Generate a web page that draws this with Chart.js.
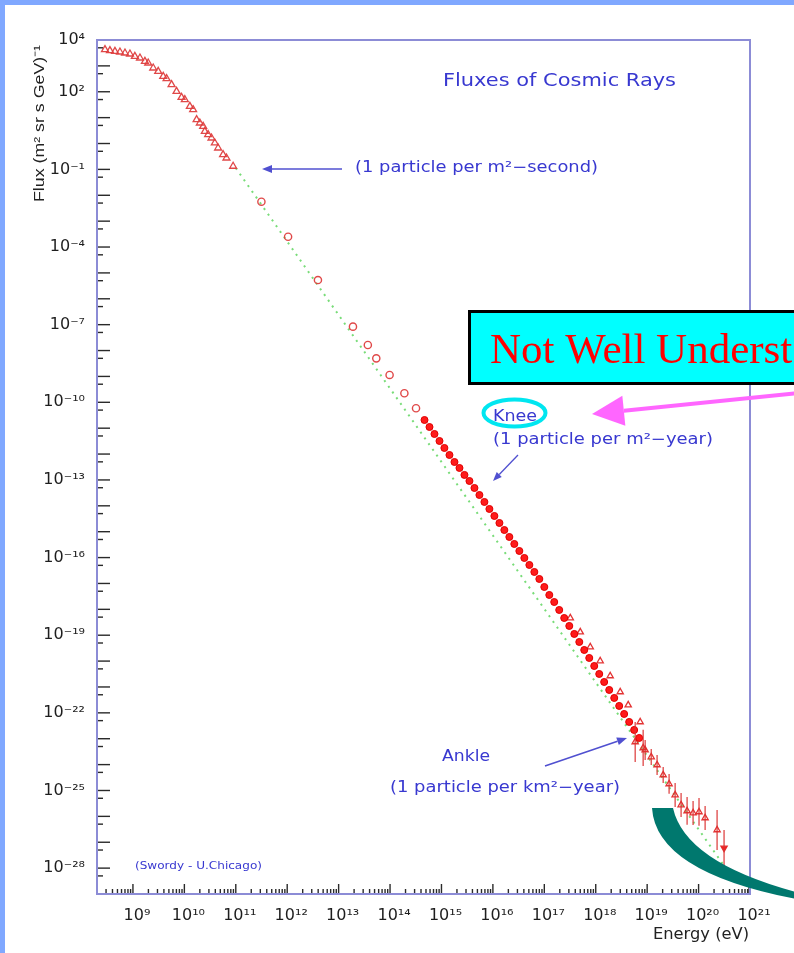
<!DOCTYPE html>
<html>
<head>
<meta charset="utf-8">
<style>
html,body{margin:0;padding:0;background:#ffffff;overflow:hidden}
#wrap{position:relative;width:794px;height:953px}
canvas{display:block}
</style>
<script src="https://cdn.jsdelivr.net/npm/chart.js@4.4.1/dist/chart.umd.min.js"></script>
</head>
<body>
<div id="wrap"><canvas id="c" width="794" height="953" style="width:794px;height:953px"></canvas></div>
<script>
// ---------------- DATA ----------------
// Energy in eV, flux in (m^2 sr s GeV)^-1
const lowEnergy = [2.86e8,3.57e8,4.47e8,5.59e8,7.0e8,8.75e8,1.09e9,1.37e9,1.71e9,1.98e9,2.48e9,3.10e9,3.88e9,4.51e9,5.64e9,7.05e9,8.81e9,1.02e10,1.28e10,1.48e10,1.73e10,2.0e10,2.32e10,2.50e10,2.90e10,3.37e10,3.91e10,4.53e10,5.66e10,6.59e10,8.87e10];
const lowFlux   = [4230,3870,3650,3440,3150,2880,2340,2020,1500,1290,828,615,394,321,188,104,61,49.5,27.3,20.3,8.35,6.21,4.62,2.96,2.20,1.63,1.05,0.671,0.371,0.276,0.132];

const midEnergy = [3.15e11,1.04e12,3.96e12,1.9e13,3.7e13,5.4e13,9.8e13,1.9e14,3.2e14];
const midFlux   = [5.65e-3,2.5e-4,5.3e-6,8.4e-8,1.64e-8,5.0e-9,1.14e-9,2.24e-10,5.9e-11];

const kneeEnergy = [4.68e14,5.85e14,7.31e14,9.15e14,1.14e15,1.43e15,1.79e15,2.24e15,2.80e15,3.50e15,4.38e15,5.47e15,6.84e15,8.55e15,1.07e16,1.34e16,1.67e16,2.09e16,2.61e16,3.27e16,4.09e16,5.12e16,6.40e16,8.0e16,1.0e17,1.25e17,1.56e17,1.95e17,2.44e17,3.06e17,3.83e17,4.79e17,5.98e17,7.48e17,9.35e17,1.17e18,1.46e18,1.83e18,2.29e18,2.86e18,3.57e18,4.47e18,5.59e18,7.0e18];
const kneeFlux   = [2.07e-11,1.11e-11,5.97e-12,3.20e-12,1.72e-12,9.2e-13,4.94e-13,2.90e-13,1.56e-13,9.1e-14,4.89e-14,2.62e-14,1.41e-14,7.55e-15,4.05e-15,2.17e-15,1.16e-15,6.25e-16,3.36e-16,1.80e-16,9.66e-17,5.18e-17,2.78e-17,1.49e-17,7.31e-18,3.59e-18,1.92e-18,9.44e-19,4.63e-19,2.28e-19,1.12e-19,5.48e-20,2.69e-20,1.32e-20,6.47e-21,3.18e-21,1.56e-21,7.66e-22,3.76e-22,1.85e-22,9.06e-23,4.45e-23,2.18e-23,1.07e-23];

const hiresEnergy = [3.20e17,5.0e17,7.82e17,1.22e18,1.91e18,2.99e18,4.28e18,7.31e18];
const hiresFlux   = [4.63e-19,1.33e-19,3.51e-20,1.01e-20,2.66e-21,6.41e-22,2.01e-22,4.45e-23];

const tailEnergy   = [5.85e18,8.36e18,9.14e18,1.20e19,1.56e19,2.05e19,2.67e19,3.50e19,4.57e19,5.98e19,7.82e19,1.02e20,1.34e20,2.29e20,3.13e20];
const tailFlux     = [7.5e-24,4.4e-24,3.68e-24,1.97e-24,9.7e-25,3.98e-25,1.79e-25,6.7e-26,2.75e-26,1.62e-26,1.35e-26,1.48e-26,8.7e-27,2.98e-27,6.0e-28];
const tailFluxHigh = [4.4e-23,2.2e-23,8.9e-24,4.0e-24,2.36e-24,8.1e-25,4.35e-25,1.95e-25,8.0e-26,5.6e-26,3.9e-26,5.1e-26,2.5e-26,1.77e-26,3.0e-27];
const tailFluxLow  = [1.26e-24,8.9e-25,1.5e-24,9.7e-25,4.0e-25,1.95e-25,7.4e-26,2.3e-26,9.5e-27,4.7e-27,4.6e-27,4.3e-27,3.0e-27,5.0e-28,8.5e-29];

const fitEnergy = [1e11, 3.6e20];
const fitFlux   = [0.113, 8.3e-29];

const xLabelPowers = [9,10,11,12,13,14,15,16,17,18,19,20,21];
const yLabelPowers = [4,2,-1,-4,-7,-10,-13,-16,-19,-22,-25,-28];

// ---------------- helpers ----------------
const SUP = {'0':'⁰','1':'¹','2':'²','3':'³','4':'⁴','5':'⁵','6':'⁶','7':'⁷','8':'⁸','9':'⁹','-':'⁻'};
function powLabel(v){
  const p = Math.round(Math.log10(v));
  return '10' + String(p).split('').map(c => SUP[c]).join('');
}
function pts(xs, ys){ return xs.map((x,i)=>({x:x, y:ys[i]})); }

function fitText(ctx, s, x0, x1, base, size, family, color, weight){
  ctx.save();
  ctx.font = (weight ? weight + ' ' : '') + size + 'px ' + family;
  ctx.fillStyle = color; ctx.textAlign = 'left'; ctx.textBaseline = 'alphabetic';
  const w = ctx.measureText(s).width;
  ctx.translate(x0, base); ctx.scale((x1 - x0) / w, 1);
  ctx.fillText(s, 0, 0);
  ctx.restore();
}
function arrow(ctx, x1, y1, x2, y2, color, lw, hl, hw){
  const a = Math.atan2(y2 - y1, x2 - x1);
  const bx = x2 - hl * Math.cos(a), by = y2 - hl * Math.sin(a);
  ctx.save();
  ctx.strokeStyle = color; ctx.fillStyle = color; ctx.lineWidth = lw; ctx.lineCap = 'butt';
  ctx.beginPath(); ctx.moveTo(x1, y1); ctx.lineTo(bx, by); ctx.stroke();
  ctx.beginPath(); ctx.moveTo(x2, y2);
  ctx.lineTo(bx + hw * Math.sin(a), by - hw * Math.cos(a));
  ctx.lineTo(bx - hw * Math.sin(a), by + hw * Math.cos(a));
  ctx.closePath(); ctx.fill();
  ctx.restore();
}

const BLUE = '#3838d0';
const RED_OPEN = 'rgba(222,62,62,0.95)';

// ---------------- plugins ----------------
const backgroundPlugin = {
  id: 'bg',
  beforeDraw(chart){
    const c = chart.ctx;
    c.save();
    c.fillStyle = '#ffffff'; c.fillRect(0, 0, chart.width, chart.height);
    c.fillStyle = '#80a8ff';
    c.fillRect(0, 0, chart.width, 5);
    c.fillRect(0, 0, 5, chart.height);
    c.restore();
  }
};

const errorBarPlugin = {
  id: 'errbars',
  afterDatasetsDraw(chart){
    const c = chart.ctx, xs = chart.scales.x, ys = chart.scales.y, a = chart.chartArea;
    c.save();
    c.beginPath(); c.rect(a.left, a.top, a.right - a.left, a.bottom - a.top); c.clip();
    c.strokeStyle = 'rgba(220,50,50,0.9)'; c.lineWidth = 1.3;
    tailEnergy.forEach((e, i) => {
      const px = xs.getPixelForValue(e);
      const y1 = ys.getPixelForValue(tailFluxHigh[i]);
      const y2 = ys.getPixelForValue(tailFluxLow[i]);
      c.beginPath(); c.moveTo(px, y1); c.lineTo(px, y2); c.stroke();
    });
    c.restore();
  }
};

const framePlugin = {
  id: 'frame',
  afterDraw(chart){
    const c = chart.ctx, xs = chart.scales.x, ys = chart.scales.y, a = chart.chartArea;
    c.save();
    // tick marks inside the frame
    c.strokeStyle = '#2a2a2a'; c.lineWidth = 1.4;
    for (let p = 8; p <= 20; p++) {
      for (let k = 1; k <= 9; k++) {
        const px = xs.getPixelForValue(k * Math.pow(10, p));
        if (px < a.left + 1 || px > a.right) continue;
        const len = k === 1 ? 10 : 5;
        c.beginPath(); c.moveTo(px, a.bottom); c.lineTo(px, a.bottom - len); c.stroke();
      }
    }
    { const px = xs.getPixelForValue(1e21); c.beginPath(); c.moveTo(px - 1, a.bottom); c.lineTo(px - 1, a.bottom - 10); c.stroke(); }
    for (let p = -29; p <= 4; p++) {
      const py = ys.getPixelForValue(Math.pow(10, p));
      if (py >= a.top + 1 && py <= a.bottom - 1) {
        c.beginPath(); c.moveTo(a.left, py); c.lineTo(a.left + 13, py); c.stroke();
      }
      const py2 = ys.getPixelForValue(5 * Math.pow(10, p - 1));
      if (py2 >= a.top && py2 <= a.bottom - 1) {
        c.beginPath(); c.moveTo(a.left, py2); c.lineTo(a.left + 6, py2); c.stroke();
      }
    }
    // frame
    c.strokeStyle = '#8c8cd6'; c.lineWidth = 2;
    c.strokeRect(a.left, a.top, a.right - a.left, a.bottom - a.top);
    c.restore();

    // ---- annotations of the original plot ----
    fitText(c, 'Fluxes of Cosmic Rays', 443, 676, 86, 18, 'DejaVu Sans', BLUE);
    fitText(c, '(1 particle per m²−second)', 355, 598, 172, 15, 'DejaVu Sans', BLUE);
    arrow(c, 342, 169, 262, 169, '#5050d0', 1.6, 10, 4);
    fitText(c, 'Knee', 493, 537, 421, 15, 'DejaVu Sans', BLUE);
    fitText(c, '(1 particle per m²−year)', 493, 713, 444, 15, 'DejaVu Sans', BLUE);
    arrow(c, 518, 455, 493, 481, '#5050d0', 1.3, 9, 3.5);
    fitText(c, 'Ankle', 442, 490, 761, 15, 'DejaVu Sans', BLUE);
    fitText(c, '(1 particle per km²−year)', 390, 620, 792, 15, 'DejaVu Sans', BLUE);
    arrow(c, 545, 766, 627, 738, '#5050d0', 1.6, 10, 4);
    fitText(c, '(Swordy - U.Chicago)', 135, 262, 869, 10, 'DejaVu Sans', BLUE);

    // axis titles
    c.save();
    c.translate(44, 202); c.rotate(-Math.PI / 2);
    fitText(c, 'Flux (m² sr s GeV)⁻¹', 0, 157, 0, 15, 'Liberation Sans', '#222222');
    c.restore();
    fitText(c, 'Energy (eV)', 653, 749, 939, 15, 'DejaVu Sans', '#222222');

    // ---- slide overlays ----
    c.save();
    c.fillStyle = '#00ffff'; c.fillRect(468, 310, 340, 75);
    c.strokeStyle = '#000000'; c.lineWidth = 3; c.strokeRect(469.5, 311.5, 340, 72);
    c.fillStyle = '#ff0000'; c.font = '43px "Liberation Serif"'; c.textBaseline = 'alphabetic';
    c.fillText('Not Well Underst', 490, 363);
    c.restore();
    arrow(c, 800, 393, 592, 414, '#ff66ff', 4, 32, 15);
    c.save();
    c.strokeStyle = '#00e6f0'; c.lineWidth = 4;
    c.beginPath(); c.ellipse(514.5, 413, 31, 13.5, 0, 0, Math.PI * 2); c.stroke();
    c.restore();
    c.save();
    c.fillStyle = '#00786e';
    c.beginPath();
    c.moveTo(652, 808);
    c.quadraticCurveTo(656, 872, 796, 899);
    c.lineTo(796, 892);
    c.quadraticCurveTo(685, 862, 673, 808);
    c.closePath(); c.fill();
    c.restore();
  }
};

// ---------------- chart ----------------
const tickFont = { family: 'DejaVu Sans', size: 16 };
new Chart(document.getElementById('c'), {
  type: 'scatter',
  data: {
    datasets: [
      { label: 'Low energy', data: pts(lowEnergy, lowFlux), pointStyle: 'triangle', pointRadius: 4,
        borderColor: RED_OPEN, backgroundColor: 'rgba(0,0,0,0)', borderWidth: 1.3 },
      { label: 'Intermediate', data: pts(midEnergy, midFlux), pointStyle: 'circle', pointRadius: 3.6,
        borderColor: RED_OPEN, backgroundColor: 'rgba(0,0,0,0)', borderWidth: 1.4 },
      { label: 'Knee region', data: pts(kneeEnergy, kneeFlux), pointStyle: 'circle', pointRadius: 3.5,
        borderColor: '#e00000', backgroundColor: '#ff1a1a', borderWidth: 1 },
      { label: 'High resolution', data: pts(hiresEnergy, hiresFlux), pointStyle: 'triangle', pointRadius: 3.6,
        borderColor: 'rgba(225,40,40,0.95)', backgroundColor: 'rgba(0,0,0,0)', borderWidth: 1.3 },
      { label: 'Highest energies', data: pts(tailEnergy, tailFlux), pointStyle: 'triangle', pointRadius: 3.6,
        pointRotation: c => (c.dataIndex === tailEnergy.length - 1 ? 180 : 0),
        borderColor: 'rgba(225,40,40,0.95)',
        backgroundColor: c => (c.dataIndex === tailEnergy.length - 1 ? '#ff1a1a' : 'rgba(0,0,0,0)'),
        borderWidth: 1.3 },
      { label: 'Power law', data: pts(fitEnergy, fitFlux), showLine: true, pointRadius: 0,
        borderColor: '#78dc78', borderWidth: 2, borderDash: [2, 5], fill: false }
    ]
  },
  options: {
    responsive: false,
    animation: false,
    devicePixelRatio: 1,
    layout: { padding: { left: 0, top: 40, right: 44, bottom: 0 } },
    plugins: { legend: { display: false }, tooltip: { enabled: false } },
    scales: {
      x: {
        type: 'logarithmic', position: 'bottom', min: 2e8, max: 1e21,
        grid: { display: false }, border: { display: false },
        afterBuildTicks: s => { s.ticks = xLabelPowers.map(p => ({ value: Math.pow(10, p) })); },
        afterFit: s => { s.height = 59; },
        ticks: { autoSkip: false, maxRotation: 0, minRotation: 0, padding: 4, labelOffset: 4,
                 color: '#1e1e1e', font: tickFont, callback: v => powLabel(v) }
      },
      y: {
        type: 'logarithmic', position: 'left', min: 1e-29, max: 1e4,
        grid: { display: false }, border: { display: false },
        afterBuildTicks: s => { s.ticks = yLabelPowers.map(p => ({ value: Math.pow(10, p) })); },
        afterFit: s => { s.width = 97; },
        ticks: { autoSkip: false, padding: 4, color: '#1e1e1e', font: tickFont, callback: v => powLabel(v) }
      }
    }
  },
  plugins: [backgroundPlugin, errorBarPlugin, framePlugin]
});
</script>
</body>
</html>
